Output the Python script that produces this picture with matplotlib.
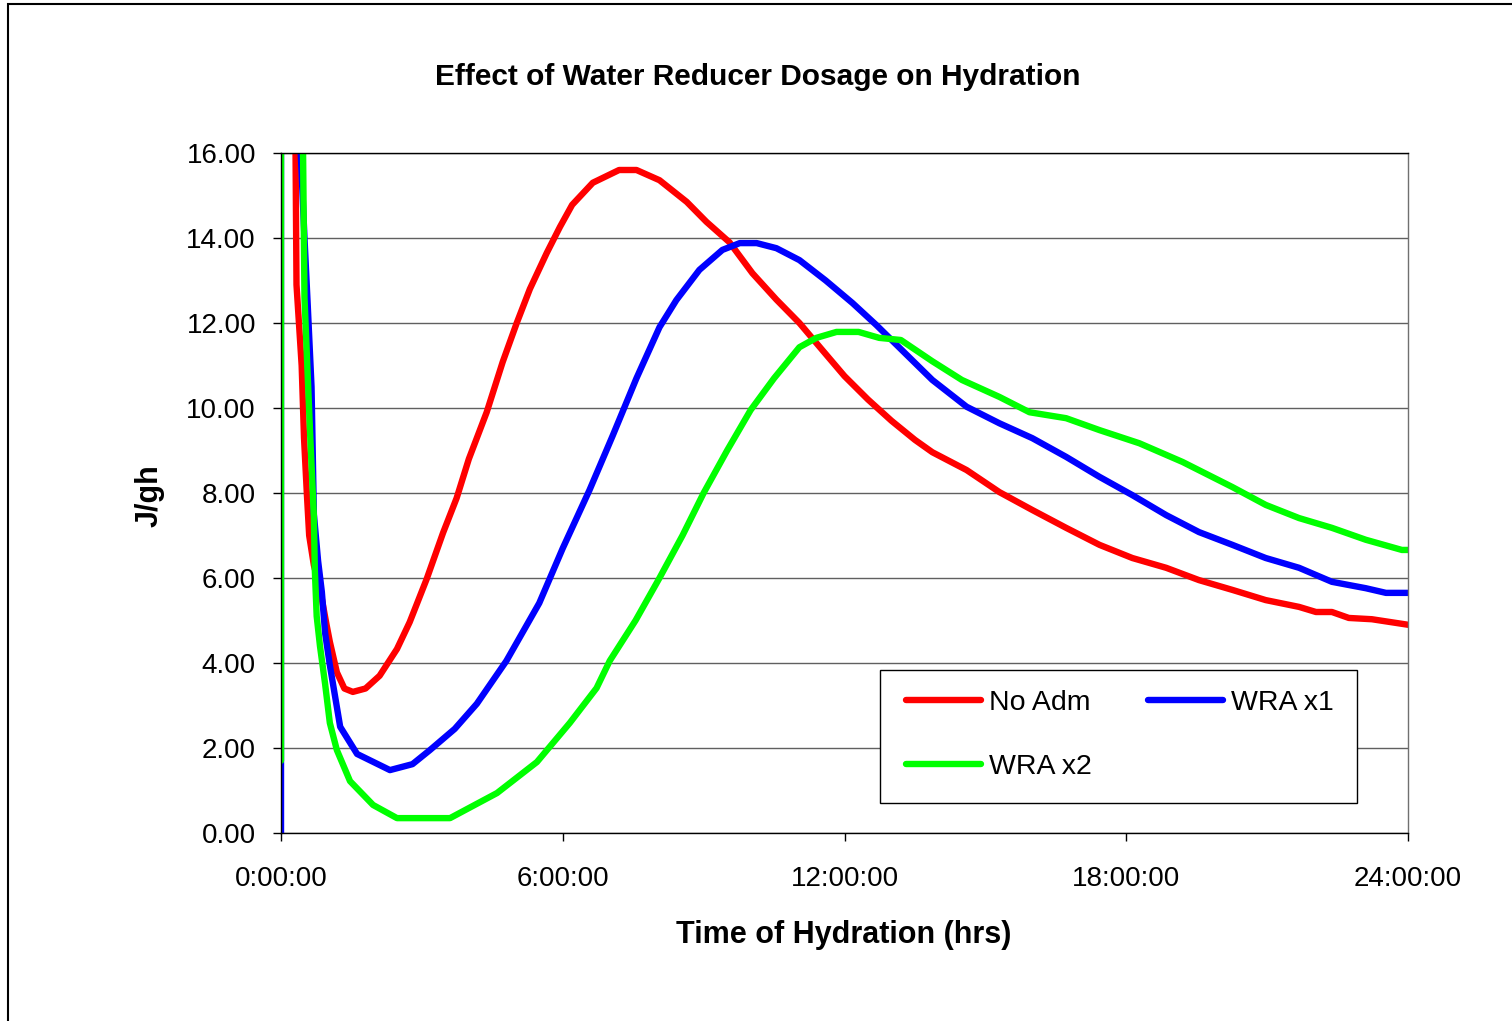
import matplotlib
matplotlib.use("Agg")
import matplotlib.pyplot as plt
from matplotlib.patches import Rectangle
from matplotlib.ticker import FuncFormatter

plt.rcParams['font.family'] = ['Liberation Sans', 'DejaVu Sans']

# hours since mixing, heat flow J/gh
t_noadm = [0.30, 0.31, 0.33, 0.44, 0.49, 0.55, 0.60, 0.70, 0.83, 0.97, 1.04, 1.19, 1.35, 1.53,
           1.8, 2.1, 2.47, 2.74, 3.1, 3.45, 3.74, 4.0, 4.38, 4.72, 5.02, 5.3, 5.66, 5.94,
           6.2, 6.64, 7.2, 7.57, 8.06, 8.64, 9.06, 9.55, 10.04, 10.55, 11.04, 11.53, 12.0,
           12.5, 13.0, 13.5, 13.87, 14.6, 15.3, 16.0, 16.72, 17.43, 18.13, 18.85, 19.55, 20.26,
           20.97, 21.68, 22.04, 22.38, 22.74, 23.23, 24.0]
j_noadm = [20.0, 16.0, 12.9, 11.0, 9.3, 8.0, 7.0, 6.3, 5.75, 4.9, 4.5, 3.78, 3.4, 3.32,
           3.4, 3.7, 4.33, 4.96, 5.97, 7.06, 7.88, 8.8, 9.9, 11.08, 12.0, 12.8, 13.65, 14.26,
           14.78, 15.3, 15.6, 15.6, 15.36, 14.85, 14.38, 13.9, 13.17, 12.55, 12.0, 11.36, 10.75,
           10.2, 9.7, 9.25, 8.96, 8.54, 8.02, 7.6, 7.18, 6.78, 6.47, 6.24, 5.95, 5.72,
           5.48, 5.32, 5.2, 5.2, 5.06, 5.03, 4.9]

t_wra1 = [0.0, 0.0, 0.38, 0.42, 0.5, 0.57, 0.65, 0.70, 0.79, 0.87, 0.94, 1.04, 1.26, 1.62, 2.32,
          2.8, 3.17, 3.7, 4.17, 4.8, 5.5, 6.0, 6.57, 7.06, 7.57, 8.06, 8.42, 8.91, 9.4, 9.77,
          10.13, 10.55, 11.04, 11.6, 12.17, 12.68, 13.87, 14.6, 15.3, 16.0, 16.72, 17.43,
          18.13, 18.85, 19.55, 20.26, 20.97, 21.68, 22.38, 23.1, 23.53, 24.0]
j_wra1 = [0.0, 20.0, 20.0, 16.0, 14.0, 12.4, 10.5, 7.5, 6.4, 5.67, 4.7, 3.95, 2.5, 1.86, 1.48,
          1.62, 1.95, 2.45, 3.04, 4.05, 5.41, 6.7, 8.07, 9.34, 10.7, 11.9, 12.54, 13.25, 13.72,
          13.88, 13.88, 13.76, 13.48, 13.0, 12.47, 11.95, 10.66, 10.03, 9.64, 9.29, 8.85, 8.38,
          7.95, 7.48, 7.08, 6.78, 6.47, 6.24, 5.91, 5.76, 5.65, 5.65]

t_wra2 = [0.0, 0.0, 0.45, 0.47, 0.5, 0.62, 0.70, 0.72, 0.76, 0.83, 0.94, 1.04, 1.19, 1.47, 1.96,
          2.47, 3.6, 4.6, 5.45, 6.15, 6.72, 7.0, 7.55, 8.06, 8.55, 9.0, 9.5, 10.0, 10.5,
          11.04, 11.4, 11.83, 12.3, 12.74, 13.2, 13.87, 14.5, 15.3, 15.94, 16.72, 17.43,
          18.28, 19.2, 20.26, 20.97, 21.68, 22.38, 23.1, 23.87, 24.0]
j_wra2 = [1.7, 20.0, 20.0, 16.0, 12.6, 9.4, 7.45, 6.2, 5.1, 4.4, 3.5, 2.59, 1.95, 1.22, 0.66,
          0.35, 0.35, 0.94, 1.67, 2.59, 3.41, 4.05, 5.0, 6.0, 7.0, 8.0, 9.0, 9.95, 10.7,
          11.43, 11.65, 11.79, 11.79, 11.65, 11.6, 11.1, 10.66, 10.26, 9.9, 9.76, 9.48,
          9.17, 8.73, 8.14, 7.72, 7.41, 7.18, 6.9, 6.66, 6.66]

series = [("No Adm", t_noadm, j_noadm, "#ff0000"),
          ("WRA x1", t_wra1, j_wra1, "#0000ff"),
          ("WRA x2", t_wra2, j_wra2, "#00ff00")]

W, H = 1512, 1021
fig = plt.figure(figsize=(W / 100, H / 100), dpi=100)
# outer chart border (right and bottom edges fall outside the image)
fig.patches.append(Rectangle((8 / W, -0.1), 1.2, 1.096, transform=fig.transFigure,
                             fill=False, edgecolor="black", linewidth=1.5))

ax = fig.add_axes([281 / W, 1 - 833 / H, (1408 - 281) / W, (833 - 153) / H])

lines = {}
for name, t, j, c in series:
    ln, = ax.plot(t, j, color=c, linewidth=4.6, label=name, solid_capstyle="round")
    lines[name] = ln

ax.set_xlim(0, 24)
ax.set_ylim(0, 16)
ax.set_xticks([0, 6, 12, 18, 24])
ax.xaxis.set_major_formatter(FuncFormatter(lambda v, p: "%d:00:00" % int(v)))
ax.set_yticks(range(0, 17, 2))
ax.yaxis.set_major_formatter(FuncFormatter(lambda v, p: "%.2f" % v))
ax.tick_params(axis="both", labelsize=20, length=6, width=1, direction="out")
ax.tick_params(axis="x", pad=18)
ax.tick_params(axis="y", pad=12)
ax.grid(axis="y", color="#606060", linewidth=1.0)
ax.set_axisbelow(True)
for s in ax.spines.values():
    s.set_linewidth(1.0)
    s.set_color("black")
ax.spines["right"].set_color("#707070")

fig.text(758 / W, 1 - 77 / H, "Effect of Water Reducer Dosage on Hydration",
         ha="center", va="center", fontsize=21.5, fontweight="bold")
fig.text(844 / W, 1 - 935 / H, "Time of Hydration (hrs)",
         ha="center", va="center", fontsize=22, fontweight="bold")
fig.text(150 / W, 1 - 496 / H, "J/gh", rotation=90,
         ha="center", va="center", fontsize=22, fontweight="bold")

# legend frame drawn separately so it sits exactly where the original box is
ax.add_patch(Rectangle((880 / W, 1 - 803 / H), (1357 - 880) / W, (803 - 670) / H,
                       transform=fig.transFigure, facecolor="white", clip_on=False,
                       edgecolor="black", linewidth=1.0, zorder=5))
order = ["No Adm", "WRA x2", "WRA x1"]
leg = ax.legend(handles=[lines[n] for n in order], ncol=2, loc="upper left",
                bbox_to_anchor=(906 / W, 1 - 690 / H), bbox_transform=fig.transFigure,
                frameon=False, fontsize=20.5, handlelength=2.65, handletextpad=0.28,
                labelspacing=1.33, columnspacing=1.95, borderpad=0, borderaxespad=0)
leg.set_zorder(6)

fig.savefig("out.png", dpi=100)
